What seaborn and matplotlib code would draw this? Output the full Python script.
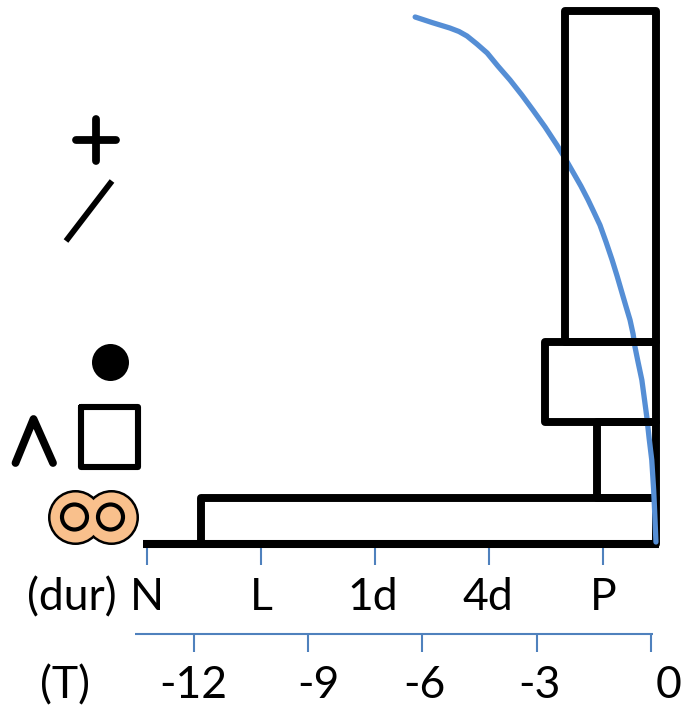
import matplotlib
matplotlib.use("Agg")
import matplotlib.pyplot as plt
import pandas as pd
import seaborn as sns

# --- Data ---
curve_t = [-6.19, -5.75, -5.28, -5.04, -4.83, -4.57, -4.30, -4.02, -3.70, -3.39, -3.10, -2.78,
           -2.47, -2.26, -2.05, -1.84, -1.65, -1.50, -1.34, -1.18, -1.02, -0.89, -0.76, -0.66,
           -0.55, -0.47, -0.42, -0.34, -0.24, -0.18, -0.11, -0.05, 0.02, 0.07, 0.10, 0.13]
curve_y = [527, 521.5, 516, 512.5, 508, 500, 491, 478, 464, 449, 434, 417,
           399, 386, 372, 358, 344, 332, 319, 302, 284, 268, 251, 238,
           224, 210, 197, 182, 164, 147, 127, 106, 84, 54, 29, 2]

stage_left = [-2.27, -2.77, -1.43, -11.80]
stage_right = [0.144, 0.144, 0.144, 0.144]
stage_bottom = [202.5, 122.5, 46, 0]
stage_top = [533, 202.5, 122.5, 46]

t_ticks = [-12, -9, -6, -3, 0]
t_labels = ["-12", "-9", "-6", "-3", "0"]
dur_ticks = [-13.23, -10.24, -7.25, -4.25, -1.26]
dur_labels = ["N", "L", "1d", "4d", "P"]

BLUE = "#558ED5"
TICK_BLUE = "#4F81BD"
ORANGE = "#F9C08C"
PX_PER_T = 38.1
X0 = 651

sns.set_theme(style="white")
plt.rcParams["font.family"] = ["Lato", "DejaVu Sans"]

fig = plt.figure(figsize=(6.93, 7.21), dpi=100)

# main axes: x is T, y is height above the base line
ax = fig.add_axes([0, 0, 1, 1])
ax.set_xlim(-X0 / PX_PER_T, (693 - X0) / PX_PER_T)
ax.set_ylim(-177, 544)
ax.axis("off")

# --- Stage boxes ---
def draw_box(i, z):
    ax.bar(stage_left[i], stage_top[i] - stage_bottom[i],
           width=stage_right[i] - stage_left[i], bottom=stage_bottom[i], align="edge",
           facecolor="none", edgecolor="black", linewidth=5.7, joinstyle="round", zorder=z)

draw_box(3, 2)
draw_box(2, 2)
ax.hlines(0, -13.33, 0.2, color="black", linewidth=5.8, zorder=2)

# blue curve sits over the two lower boxes and under the others
df = pd.DataFrame({"T": curve_t, "y": curve_y})
sns.lineplot(data=df, x="T", y="y", ax=ax, color=BLUE, linewidth=3.8, sort=False,
             estimator=None, legend=False, zorder=3)
ax.axis("off")
ax.set_xlim(-X0 / PX_PER_T, (693 - X0) / PX_PER_T)
ax.set_ylim(-177, 544)

draw_box(0, 4)
draw_box(1, 4)

# --- Tick marks ---
ax.vlines(dur_ticks, -21, -4, color=TICK_BLUE, linewidth=1.5)
ax.hlines(-90, -13.55, 0.05, color=TICK_BLUE, linewidth=1.5)
ax.vlines(t_ticks, -108, -90, color=TICK_BLUE, linewidth=1.5)

# --- Glyphs and labels, in picture pixels ---
deco = fig.add_axes([0, 0, 1, 1])
deco.set_xlim(0, 693)
deco.set_ylim(721, 0)
deco.axis("off")
deco.patch.set_alpha(0)

deco.plot([96, 96], [119, 161], color="black", lw=5.6, solid_capstyle="round")
deco.plot([76, 116], [140, 140], color="black", lw=5.6, solid_capstyle="round")
deco.plot([66, 112], [241, 181], color="black", lw=4.2, solid_capstyle="butt")
deco.scatter([110], [362], s=(37 * 0.72) ** 2, color="black", linewidths=0)
deco.plot([80.5, 138, 138, 80.5, 80.5], [407, 407, 466.5, 466.5, 407], color="black", lw=4.4,
          solid_joinstyle="round")
deco.plot([15.5, 33.5, 53], [463, 419, 463], color="black", lw=5.6,
          solid_capstyle="round", solid_joinstyle="round")

# the two rings merge into one outline
ring_x = [74.5, 110.5]
ring_y = [517, 517]
deco.scatter(ring_x, ring_y, s=(55 * 0.72) ** 2, color="black", linewidths=0, zorder=3)
deco.scatter(ring_x, ring_y, s=(50 * 0.72) ** 2, color=ORANGE, linewidths=0, zorder=4)
deco.scatter(ring_x, ring_y, s=(25 * 0.72) ** 2, facecolor="none", edgecolor="black",
             linewidths=3, zorder=5)

FS = 32
for name, x in zip(dur_labels, [147, 261, 373, 488, 603]):
    deco.text(x, 598, name, fontsize=FS, ha="center", va="center", color="black")
deco.text(72, 598, "(dur)", fontsize=FS, ha="center", va="center", color="black")
for name, x in zip(t_labels, [193, 318, 424, 539, 669]):
    deco.text(x, 686, name, fontsize=FS, ha="center", va="center", color="black")
deco.text(65, 686, "(T)", fontsize=FS, ha="center", va="center", color="black")

fig.savefig("out.png", dpi=100)
